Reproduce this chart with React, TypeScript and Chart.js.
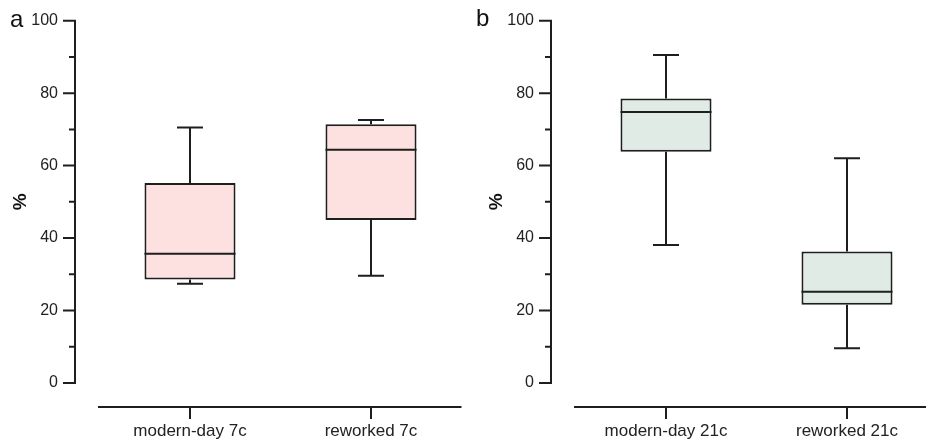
import React, { useEffect, useRef } from "react";
import { Chart, registerables } from "chart.js";

Chart.register(...registerables);

// ---- data ----
const CATEGORIES_A = ["modern-day 7c", "reworked 7c"];
const MIN_A = [27.4, 29.6];
const Q1_A = [28.6, 45.0];
const MEDIAN_A = [35.7, 64.4];
const Q3_A = [55.2, 71.4];
const MAX_A = [70.5, 72.6];

const CATEGORIES_B = ["modern-day 21c", "reworked 21c"];
const MIN_B = [38.1, 9.6];
const Q1_B = [63.8, 21.6];
const MEDIAN_B = [74.8, 25.2];
const Q3_B = [78.5, 36.3];
const MAX_B = [90.5, 62.0];

const Y_MIN = 0;
const Y_MAX = 100;
const Y_STEP = 10;
const Y_LABEL_STEP = 20;

const FONT = "'Liberation Sans', Arial, Helvetica, sans-serif";
const INK = "#1e1e1e";
const TEXT = "#222222";

type PanelProps = {
  letter: string;
  categories: string[];
  mins: number[];
  q1s: number[];
  medians: number[];
  q3s: number[];
  maxs: number[];
  fill: string;
  left: number;
  width: number;
  yScaleWidth: number;
  titlePad: number;
  letterX: number;
  letterY: number;
};

function Panel(p: PanelProps) {
  const ref = useRef<HTMLCanvasElement | null>(null);
  useEffect(() => {
    if (!ref.current) return;
    const axisGap = 24;
    const boxPlugin = {
      id: "boxplotExtras",
      afterDatasetsDraw(chart: any) {
        const ctx = chart.ctx as CanvasRenderingContext2D;
        const xs = chart.scales.x;
        const ys = chart.scales.y;
        const area = chart.chartArea;
        const meta = chart.getDatasetMeta(0);
        ctx.save();
        ctx.strokeStyle = INK;
        ctx.lineWidth = 2;
        ctx.lineCap = "butt";
        // whiskers + medians
        p.categories.forEach((_, i) => {
          const cx = xs.getPixelForValue(i);
          const bar = meta.data[i];
          const half = bar ? bar.width / 2 : 45;
          const capHalf = 13;
          const yMax = ys.getPixelForValue(p.maxs[i]);
          const yQ3 = ys.getPixelForValue(p.q3s[i]);
          const yQ1 = ys.getPixelForValue(p.q1s[i]);
          const yMin = ys.getPixelForValue(p.mins[i]);
          const yMed = ys.getPixelForValue(p.medians[i]);
          ctx.beginPath();
          ctx.moveTo(cx, yQ3);
          ctx.lineTo(cx, yMax);
          ctx.moveTo(cx - capHalf, yMax);
          ctx.lineTo(cx + capHalf, yMax);
          ctx.moveTo(cx, yQ1);
          ctx.lineTo(cx, yMin);
          ctx.moveTo(cx - capHalf, yMin);
          ctx.lineTo(cx + capHalf, yMin);
          ctx.moveTo(cx - half, yMed);
          ctx.lineTo(cx + half, yMed);
          ctx.stroke();
        });
        // offset y axis
        const axX = area.left - axisGap - 0.5;
        const yTop = ys.getPixelForValue(Y_MAX);
        const yBot = ys.getPixelForValue(Y_MIN);
        ctx.beginPath();
        ctx.moveTo(axX, yTop - 1);
        ctx.lineTo(axX, yBot + 1);
        for (let v = Y_MIN; v <= Y_MAX; v += Y_STEP) {
          const py = ys.getPixelForValue(v);
          const len = v % Y_LABEL_STEP === 0 ? 12 : 6;
          ctx.moveTo(axX + 1, py);
          ctx.lineTo(axX - len, py);
        }
        ctx.stroke();
        // offset x axis
        const axY = area.bottom + axisGap;
        ctx.beginPath();
        ctx.moveTo(area.left - 1.5, axY);
        ctx.lineTo(area.right, axY);
        p.categories.forEach((_, i) => {
          const cx = xs.getPixelForValue(i);
          ctx.moveTo(cx, axY);
          ctx.lineTo(cx, axY + 12);
        });
        ctx.stroke();
        // panel letter
        ctx.fillStyle = "#111";
        ctx.font = `24px ${FONT}`;
        ctx.textAlign = "left";
        ctx.textBaseline = "alphabetic";
        ctx.fillText(p.letter, p.letterX, p.letterY);
        ctx.restore();
      },
    };

    const chart = new Chart(ref.current, {
      type: "bar",
      data: {
        labels: p.categories,
        datasets: [
          {
            data: p.q1s.map((v, i) => [v, p.q3s[i]]) as any,
            backgroundColor: p.fill,
            borderColor: INK,
            borderWidth: 2,
            borderSkipped: false,
            barPercentage: 0.503,
            categoryPercentage: 1,
          },
        ],
      },
      options: {
        animation: false,
        responsive: false,
        maintainAspectRatio: false,
        layout: { padding: { top: 20.7, right: 1.5, left: 0, bottom: 0 } },
        plugins: { legend: { display: false }, tooltip: { enabled: false } },
        scales: {
          x: {
            offset: true,
            grid: { display: false, drawTicks: false },
            border: { display: false },
            ticks: {
              padding: 38,
              autoSkip: false,
              maxRotation: 0,
              color: TEXT,
              font: { size: 17, family: FONT },
            },
            afterFit: (s: any) => {
              s.height = 57;
              s.paddingLeft = 0;
              s.paddingRight = 0;
            },
          },
          y: {
            min: Y_MIN,
            max: Y_MAX,
            grid: { display: false, drawTicks: false },
            border: { display: false },
            ticks: {
              stepSize: Y_STEP,
              padding: 41.5,
              color: TEXT,
              font: { size: 16, family: FONT },
              callback: (v: any) => (Number(v) % Y_LABEL_STEP === 0 ? String(v) : ""),
            },
            title: {
              display: true,
              text: "%",
              color: "#111",
              font: { size: 19, weight: "bold", family: FONT },
              padding: { top: p.titlePad, bottom: 0 },
            },
            afterFit: (s: any) => {
              s.width = p.yScaleWidth;
              s.paddingTop = 10;
              s.paddingBottom = 10;
            },
          },
        },
      } as any,
      plugins: [boxPlugin],
    });
    return () => chart.destroy();
  }, []);

  return (
    <canvas
      ref={ref}
      width={p.width}
      height={440}
      style={{ position: "absolute", left: p.left, top: 0, width: p.width, height: 440 }}
    />
  );
}

export default function App() {
  return (
    <div
      style={{
        position: "absolute",
        left: 0,
        top: 0,
        width: 926,
        height: 440,
        overflow: "hidden",
        background: "#ffffff",
      }}
    >
      <Panel
        letter="a"
        categories={CATEGORIES_A}
        mins={MIN_A}
        q1s={Q1_A}
        medians={MEDIAN_A}
        q3s={Q3_A}
        maxs={MAX_A}
        fill="#fde0e0"
        left={0}
        width={463}
        yScaleWidth={99.5}
        titlePad={9}
        letterX={10}
        letterY={27}
      />
      <Panel
        letter="b"
        categories={CATEGORIES_B}
        mins={MIN_B}
        q1s={Q1_B}
        medians={MEDIAN_B}
        q3s={Q3_B}
        maxs={MAX_B}
        fill="#dfebe4"
        left={463}
        width={476}
        yScaleWidth={112.5}
        titlePad={22}
        letterX={13}
        letterY={26}
      />
    </div>
  );
}
